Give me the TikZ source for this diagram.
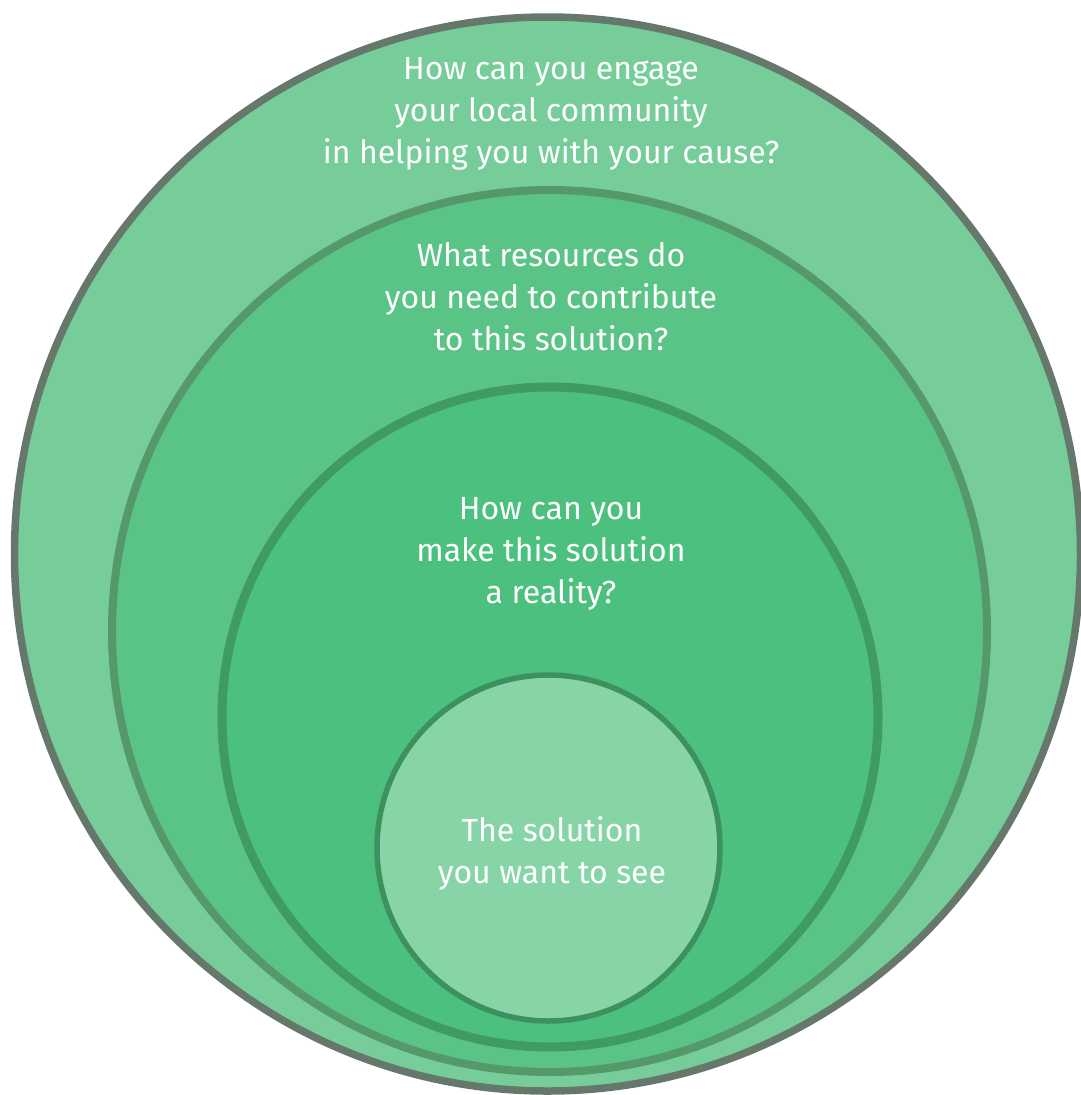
\documentclass[tikz,border=0pt]{standalone}
\usepackage{fontspec}
\setmainfont{Fira Sans}
\definecolor{f1}{HTML}{76CD9A}
\definecolor{s1}{HTML}{66786C}
\definecolor{f2}{HTML}{5AC487}
\definecolor{s2}{HTML}{54986C}
\definecolor{f3}{HTML}{4CC07E}
\definecolor{s3}{HTML}{3F9A63}
\definecolor{f4}{HTML}{87D5A7}
\definecolor{s4}{HTML}{3C915E}
\begin{document}
\begin{tikzpicture}[x=1pt,y=1pt,
  lbl/.style={text=white,align=center,font=\fontsize{32}{42}\selectfont,inner sep=0pt}]
\useasboundingbox (0,0) rectangle (1081,-1095);
\begin{scope}
\clip (0,0) rectangle (1081,-1095);
\draw[fill=f1,draw=s1,line width=7.5pt] (547.5,-554) ellipse [x radius=533, y radius=537];
\draw[fill=f2,draw=s2,line width=8pt] (549.5,-631) ellipse [x radius=437.5, y radius=441];
\draw[fill=f3,draw=s3,line width=9pt] (550,-717) ellipse [x radius=328, y radius=330];
\draw[fill=f4,draw=s4,line width=5.5pt] (548.5,-848) ellipse [x radius=171.5, y radius=173];
\end{scope}
\node[lbl] (t1) at (551,-114) {How can you engage\\your local community\\in helping you with your cause?};
\node[lbl] (t2) at (551,-297) {What resources do\\you need to contribute\\to this solution?};
\node[lbl] (t3) at (551,-554) {How can you\\make this solution\\a reality?};
\node[lbl] (t4) at (552,-853) {The solution\\you want to see};
\end{tikzpicture}
\end{document}
